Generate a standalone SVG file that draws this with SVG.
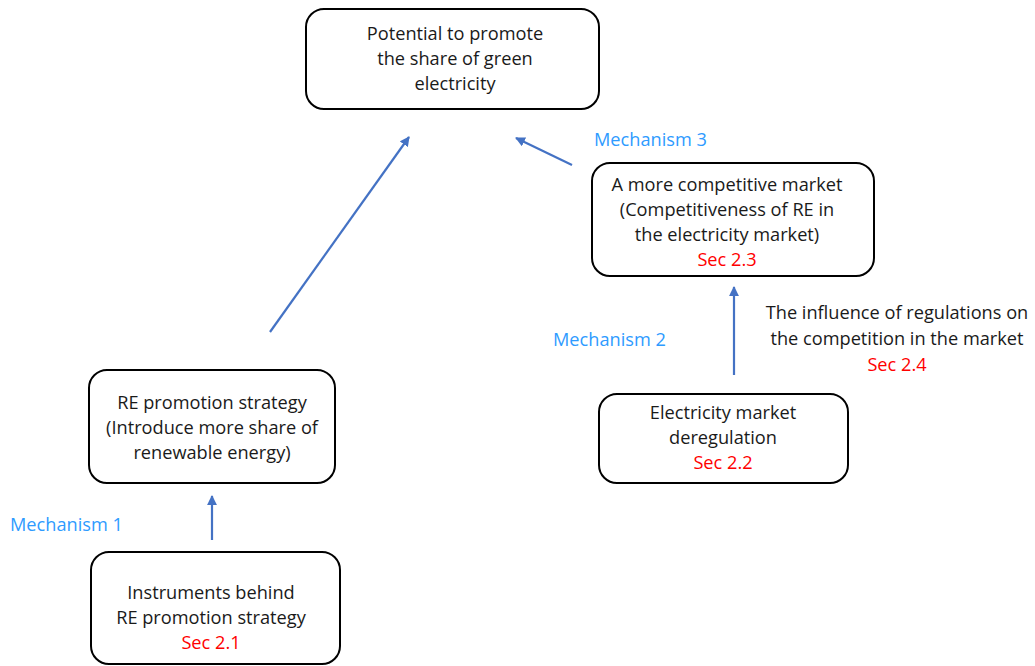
<svg xmlns="http://www.w3.org/2000/svg" width="1035" height="666" viewBox="0 0 1035 666">
  <defs>
    <marker id="arrow" viewBox="0 0 10 10" refX="9" refY="5" markerWidth="4.5" markerHeight="4.5" orient="auto" markerUnits="strokeWidth">
      <path d="M0,0 L10,5 L0,10 z" fill="#4472C4"/>
    </marker>
    <style>
      .box { fill: #ffffff; stroke: #000000; stroke-width: 2; }
      text { font-family: "Open Sans", "Noto Sans", sans-serif; font-size: 18.2px; text-anchor: middle; fill: #1a1a1a; }
      .sec { fill: #ff0000; }
      .mech { fill: #2e9bff; text-anchor: start; }
      .conn { stroke: #4472C4; stroke-width: 2.2; fill: none; marker-end: url(#arrow); }
    </style>
  </defs>
  <rect width="1035" height="666" fill="#ffffff"/>

  <g id="connectors">
    <line class="conn" x1="212" y1="540" x2="212" y2="496"/>
    <line class="conn" x1="734" y1="375" x2="734" y2="287"/>
    <line class="conn" x1="270" y1="332" x2="409" y2="137"/>
    <line class="conn" x1="572" y1="165" x2="516" y2="138"/>
  </g>

  <g id="node-goal">
    <rect class="box" x="306" y="9" width="293" height="100" rx="18"/>
    <text x="455" y="40">Potential to promote</text>
    <text x="455" y="65">the share of green</text>
    <text x="455" y="90">electricity</text>
  </g>

  <g id="node-competitive">
    <rect class="box" x="592" y="163" width="282" height="113" rx="18"/>
    <text x="727" y="191">A more competitive market</text>
    <text x="727" y="216">(Competitiveness of RE in</text>
    <text x="727" y="241">the electricity market)</text>
    <text class="sec" x="727" y="266">Sec 2.3</text>
  </g>

  <g id="node-re-strategy">
    <rect class="box" x="89" y="370" width="246" height="113" rx="18"/>
    <text x="212" y="409">RE promotion strategy</text>
    <text x="212" y="434">(Introduce more share of</text>
    <text x="212" y="459">renewable energy)</text>
  </g>

  <g id="node-instruments">
    <rect class="box" x="91" y="552" width="249" height="112" rx="18"/>
    <text x="211" y="599">Instruments behind</text>
    <text x="211" y="624">RE promotion strategy</text>
    <text class="sec" x="211" y="649">Sec 2.1</text>
  </g>

  <g id="node-deregulation">
    <rect class="box" x="599" y="394" width="249" height="89" rx="18"/>
    <text x="723" y="419">Electricity market</text>
    <text x="723" y="444">deregulation</text>
    <text class="sec" x="723" y="469">Sec 2.2</text>
  </g>

  <g id="labels">
    <text class="mech" x="10" y="531">Mechanism 1</text>
    <text class="mech" x="553" y="346">Mechanism 2</text>
    <text class="mech" x="594" y="146">Mechanism 3</text>
    <text x="897" y="319">The influence of regulations on</text>
    <text x="897" y="345">the competition in the market</text>
    <text class="sec" x="897" y="371">Sec 2.4</text>
  </g>
</svg>
